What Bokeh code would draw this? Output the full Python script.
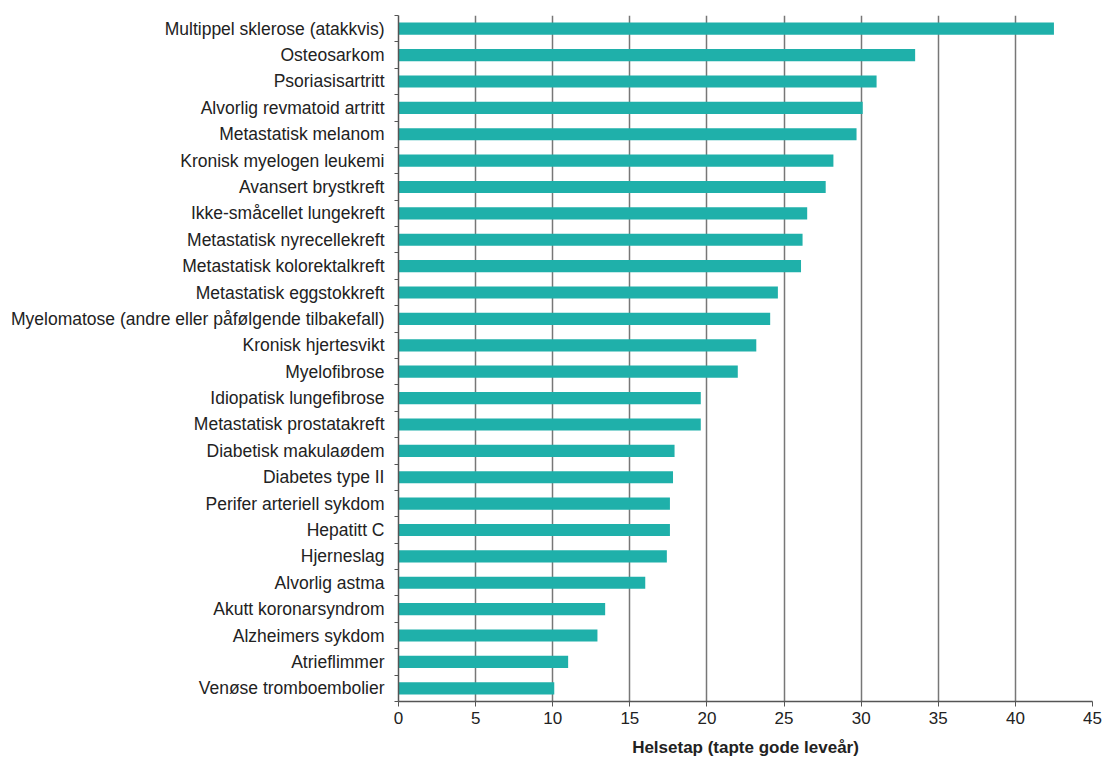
from bokeh.plotting import figure
from bokeh.models import ColumnDataSource, FixedTicker, Range1d
from bokeh.embed import file_html
from bokeh.resources import INLINE

categories = [
    "Multippel sklerose (atakkvis)",
    "Osteosarkom",
    "Psoriasisartritt",
    "Alvorlig revmatoid artritt",
    "Metastatisk melanom",
    "Kronisk myelogen leukemi",
    "Avansert brystkreft",
    "Ikke-småcellet lungekreft",
    "Metastatisk nyrecellekreft",
    "Metastatisk kolorektalkreft",
    "Metastatisk eggstokkreft",
    "Myelomatose (andre eller påfølgende tilbakefall)",
    "Kronisk hjertesvikt",
    "Myelofibrose",
    "Idiopatisk lungefibrose",
    "Metastatisk prostatakreft",
    "Diabetisk makulaødem",
    "Diabetes type II",
    "Perifer arteriell sykdom",
    "Hepatitt C",
    "Hjerneslag",
    "Alvorlig astma",
    "Akutt koronarsyndrom",
    "Alzheimers sykdom",
    "Atrieflimmer",
    "Venøse tromboembolier",
]
values = [42.5, 33.5, 31.0, 30.1, 29.7, 28.2, 27.7, 26.5, 26.2, 26.1,
          24.6, 24.1, 23.2, 22.0, 19.6, 19.6, 17.9, 17.8, 17.6, 17.6,
          17.4, 16.0, 13.4, 12.9, 11.0, 10.1]
x_ticks = [0, 5, 10, 15, 20, 25, 30, 35, 40, 45]
x_title = "Helsetap (tapte gode leveår)"

n = len(categories)
ypos = [n - 1 - i for i in range(n)]
src = ColumnDataSource(dict(y=ypos, v=values, cat=categories))

p = figure(width=1103, height=760, output_backend="svg", toolbar_location=None,
           x_range=Range1d(0, 45), y_range=Range1d(-0.5, n - 0.5),
           min_border_left=398, min_border_right=11, min_border_top=15,
           min_border_bottom=59)
p.outline_line_color = None
p.background_fill_color = "white"
p.border_fill_color = "white"

p.hbar(y="y", right="v", left=0, height=0.46, source=src,
       fill_color="#1fb0aa", line_color=None)

# y axis
p.yaxis.ticker = FixedTicker(ticks=ypos, minor_ticks=[k - 0.5 for k in range(n + 1)])
p.yaxis.major_label_overrides = {y: c for y, c in zip(ypos, categories)}
p.yaxis.major_tick_line_color = None
p.yaxis.minor_tick_line_color = "#555555"
p.yaxis.minor_tick_out = 4
p.yaxis.minor_tick_in = 0
p.yaxis.axis_line_color = "#555555"
p.yaxis.axis_line_width = 1.5
p.yaxis.major_label_standoff = 8
p.yaxis.major_label_text_font = "Liberation Sans"
p.yaxis.major_label_text_font_size = "17.5px"
p.yaxis.major_label_text_color = "#222222"
p.ygrid.grid_line_color = None

# x axis
p.xaxis.ticker = FixedTicker(ticks=x_ticks)
p.xaxis.minor_tick_line_color = None
p.xaxis.major_tick_out = 5
p.xaxis.major_tick_in = 0
p.xaxis.major_tick_line_color = "#555555"
p.xaxis.axis_line_color = "#555555"
p.xaxis.axis_line_width = 1.5
p.xaxis.major_label_standoff = 5
p.xaxis.major_label_text_font = "Liberation Sans"
p.xaxis.major_label_text_font_size = "17px"
p.xaxis.major_label_text_color = "#222222"
p.xaxis.axis_label = x_title
p.xaxis.axis_label_text_font = "Liberation Sans"
p.xaxis.axis_label_text_font_style = "bold"
p.xaxis.axis_label_text_font_size = "17px"
p.xaxis.axis_label_text_color = "#222222"
p.xaxis.axis_label_standoff = 11

p.xgrid.ticker = FixedTicker(ticks=x_ticks[1:])
p.xgrid.grid_line_color = "#777777"
p.xgrid.grid_line_width = 1.5

open("out.html", "w").write(file_html(p, INLINE))
